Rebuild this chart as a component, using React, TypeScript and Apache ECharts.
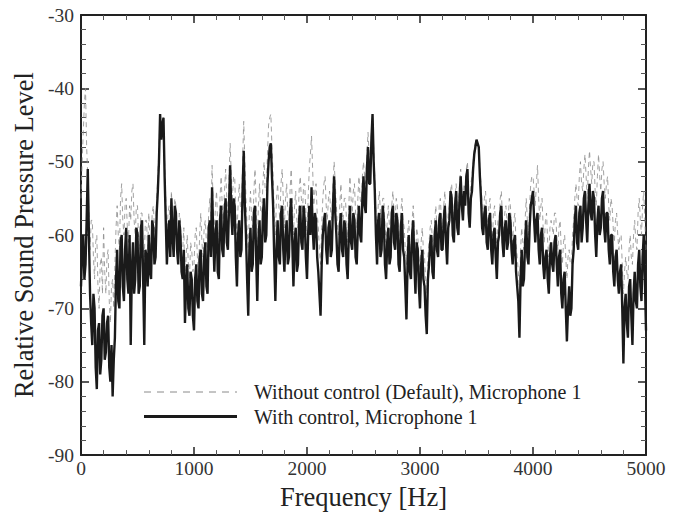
import React, { useEffect, useRef } from "react";
import * as echarts from "echarts";

// Frequency grid (Hz), 10 Hz step from 0 to 5000
const freqStep = 10;
const freqCount = 501;

// Relative SPL, with control (solid black)
const withControl: number[] = [
  -67, -62, -60, -66, -64, -58, -51, -60, -68, -72,
  -75, -68, -70, -78, -81, -73, -72, -79, -77, -71,
  -70, -77, -76, -72, -71, -78, -80, -75, -82, -77,
  -74, -66, -62, -69, -70, -61, -60, -67, -69, -62,
  -59, -66, -68, -60, -75, -65, -61, -68, -66, -59,
  -60, -68, -67, -59, -58, -66, -75, -62, -63, -67,
  -60, -65, -66, -58, -59, -64, -63, -57, -54, -50,
  -43.5, -47, -45, -44, -52, -58, -64, -60, -58, -63,
  -55, -60, -63, -56, -57, -62, -64, -58, -60, -65,
  -66, -62, -72, -67, -64, -70, -71, -65, -66, -71,
  -73, -66, -64, -69, -70, -63, -62, -68, -69, -63,
  -61, -67, -68, -59, -58, -63, -53.5, -60, -65, -60,
  -58, -65, -66, -58, -56, -62, -63, -57, -55, -61,
  -62, -56, -50.5, -57, -60, -55, -56, -63, -67, -60,
  -58, -63, -62, -54, -48.5, -56, -60, -66, -71, -62,
  -59, -65, -64, -57, -56, -63, -69, -61, -58, -64,
  -63, -57, -55, -61, -60, -53, -50, -48, -47.5, -52,
  -56, -63, -69, -62, -58, -63, -64, -57, -56, -62,
  -65, -60, -58, -64, -63, -57, -55, -61, -67, -61,
  -59, -65, -64, -58, -56, -61, -62, -56, -58, -63,
  -66, -60, -56, -60, -53.5, -59, -62, -57, -58, -63,
  -65, -68, -71, -64, -60, -58, -57, -62, -64, -59,
  -58, -63, -62, -56, -52, -57, -60, -64, -65, -59,
  -57, -62, -63, -58, -59, -64, -66, -60, -56, -61,
  -62, -57, -58, -63, -64, -59, -56, -60, -61, -55,
  -52, -56, -57, -51, -48, -53, -53, -47, -43.5, -50,
  -54, -60, -64, -58, -57, -63, -62, -56, -58, -64,
  -66, -61, -59, -64, -63, -57, -56, -61, -62, -57,
  -58, -64, -65, -59, -57, -62, -63, -67, -71.5, -64,
  -60, -65, -66, -60, -58, -64, -68, -61, -62, -67,
  -70, -64, -62, -66, -67, -71, -73.5, -66, -64, -61,
  -60, -65, -66, -60, -58, -62, -63, -58, -57, -62,
  -62, -58, -56, -61, -64, -59, -58, -54, -55, -60,
  -61, -56, -54, -59, -60, -55, -52, -56, -58, -54,
  -56, -52, -51, -57, -59, -55, -54, -51, -49, -48,
  -47, -47.5, -48, -52, -55, -59, -60, -57, -56, -61,
  -62, -58, -57, -62, -64, -60, -59, -63, -66, -61,
  -60, -57, -56, -61, -63, -59, -58, -62, -61, -57,
  -58, -62, -64, -61, -60, -65, -67, -69, -74, -66,
  -62, -67, -66, -61, -58, -63, -64, -59, -56, -55,
  -54, -58, -61, -58, -57, -62, -64, -60, -59, -64,
  -66, -63, -62, -66, -68, -63, -61, -64, -65, -61,
  -60, -64, -67, -63, -62, -68, -70, -66, -65, -70,
  -74.5, -70, -67, -71, -70, -64, -62, -58, -56, -61,
  -62, -57, -56, -61, -59, -55, -54, -58, -61, -56,
  -53, -57, -58, -54, -55, -60, -63, -58, -56, -60,
  -59, -55, -54, -59, -61, -57, -57, -62, -64, -60,
  -60, -65, -67, -63, -62, -66, -68, -65, -64, -70,
  -77.5, -70, -68, -72, -74, -67, -66, -71, -75, -68,
  -65, -69, -70, -64, -62, -67, -69, -63, -60, -66,
  -73,
];

// Relative SPL, without control (dashed grey)
const withoutControl: number[] = [
  -55, -50, -46, -42, -40, -48, -52, -57, -62, -58,
  -58, -63, -66, -61, -60, -67, -70, -64, -63, -68,
  -59, -65, -68, -63, -62, -69, -72, -67, -66, -70,
  -64, -59, -56, -60, -62, -55, -53, -58, -60, -56,
  -55, -59, -61, -56, -58, -54, -53, -58, -60, -56,
  -56, -61, -62, -57, -57, -62, -63, -58, -58, -62,
  -57, -61, -62, -57, -56, -59, -60, -55, -52, -48,
  -44, -46, -45, -44, -50, -55, -60, -57, -56, -60,
  -54, -58, -60, -55, -56, -60, -62, -57, -58, -62,
  -62, -59, -68, -63, -60, -64, -66, -61, -62, -65,
  -64, -60, -59, -63, -65, -60, -57, -61, -63, -59,
  -58, -61, -62, -57, -55, -58, -50.5, -56, -60, -56,
  -54, -59, -61, -55, -52, -56, -58, -54, -51, -55,
  -57, -52, -47.5, -52, -55, -52, -52, -57, -60, -56,
  -53, -56, -57, -50, -44.5, -50, -55, -59, -62, -57,
  -54, -58, -59, -54, -51, -56, -61, -56, -53, -57,
  -57, -53, -50, -54, -54, -49, -45, -44, -43.5, -48,
  -52, -57, -60, -55, -53, -56, -58, -53, -51, -55,
  -59, -55, -53, -57, -58, -54, -51, -56, -60, -56,
  -54, -58, -59, -54, -52, -55, -57, -53, -53, -57,
  -60, -55, -51, -49, -46.5, -51, -56, -54, -53, -57,
  -59, -62, -64, -59, -55, -53, -52, -56, -58, -55,
  -54, -57, -58, -53, -50, -53, -56, -59, -60, -56,
  -53, -57, -58, -55, -55, -58, -61, -56, -52, -55,
  -57, -54, -53, -57, -59, -55, -52, -55, -56, -52,
  -50, -52, -53, -49, -46, -49, -50, -46, -43.5, -48,
  -52, -57, -60, -56, -54, -57, -59, -55, -55, -59,
  -61, -58, -56, -59, -60, -56, -54, -57, -58, -55,
  -56, -60, -61, -57, -55, -58, -59, -62, -64, -60,
  -58, -61, -63, -58, -56, -60, -64, -59, -60, -63,
  -65, -61, -59, -62, -63, -66, -68, -63, -61, -59,
  -58, -61, -63, -58, -56, -59, -60, -56, -55, -58,
  -59, -56, -54, -58, -61, -57, -56, -54, -53, -56,
  -58, -55, -53, -56, -57, -53, -51, -54, -56, -53,
  -54, -51, -50, -54, -57, -53, -52, -50, -48, -47.5,
  -47, -47.5, -48, -51, -53, -56, -58, -55, -54, -57,
  -59, -56, -55, -59, -61, -57, -56, -59, -62, -58,
  -58, -55, -54, -58, -60, -57, -56, -58, -58, -55,
  -56, -59, -61, -58, -57, -61, -63, -65, -68, -62,
  -59, -61, -62, -58, -55, -58, -60, -56, -53, -52,
  -52, -54, -56, -53, -50.5, -55, -58, -56, -55, -59,
  -61, -58, -57, -61, -63, -59, -58, -59, -60, -57,
  -57, -60, -62, -59, -58, -62, -64, -61, -60, -63,
  -66, -63, -62, -64, -64, -60, -58, -55, -53, -55,
  -56, -52, -50, -53, -54, -51, -49, -52, -55, -51,
  -48.5, -51, -53, -50, -50, -54, -56, -52, -49, -52,
  -54, -51, -50, -53, -55, -53, -52, -56, -58, -55,
  -56, -59, -61, -58, -57, -60, -62, -60, -60, -64,
  -68, -65, -63, -65, -66, -62, -60, -63, -64, -60,
  -58, -61, -62, -57, -55, -58, -60, -56, -54, -58,
  -62,
];

const xTicks = ["0", "1000", "2000", "3000", "4000", "5000"];
const seriesNames = [
  "Without control (Default), Microphone 1",
  "With control, Microphone 1",
];

const FONT = "Liberation Serif, Times New Roman, serif";

export default function App() {
  const ref = useRef<HTMLDivElement>(null);
  useEffect(() => {
    if (!ref.current) return;
    document.body.style.margin = "0";
    const chart = echarts.init(ref.current, undefined, { renderer: "svg" });
    const freqs = Array.from({ length: freqCount }, (_, i) => i * freqStep);
    const d1 = freqs.map((f, i) => [f, withoutControl[i]]);
    const d2 = freqs.map((f, i) => [f, withControl[i]]);
    const axisColor = "#222";
    const baseAxis = {
      type: "value" as const,
      axisLine: { show: true, onZero: false, lineStyle: { color: axisColor, width: 2 } },
      axisTick: { show: true, inside: true, length: 8, lineStyle: { color: axisColor, width: 1.5 } },
      minorTick: { show: true, splitNumber: 5, length: 5, lineStyle: { color: "#555", width: 1 } },
      splitLine: { show: false },
    };
    const legendX1 = 144;
    const legendX2 = 237;
    const textX = 254;
    const legendY1 = 392;
    const legendY2 = 416.5;
    chart.setOption({
      animation: false,
      backgroundColor: "#fff",
      grid: { left: 81, right: 37, top: 15, bottom: 48, containLabel: false },
      graphic: [
        {
          type: "line",
          shape: { x1: legendX1, y1: legendY1, x2: legendX2, y2: legendY1 },
          style: { stroke: "#8a8a8a", lineWidth: 1, lineDash: [7, 6] },
          z: 10,
        },
        {
          type: "text",
          x: textX,
          y: legendY1,
          style: {
            text: seriesNames[0],
            font: `20px ${FONT}`,
            fill: "#222",
            textVerticalAlign: "middle",
            verticalAlign: "middle",
          },
          z: 10,
        },
        {
          type: "line",
          shape: { x1: legendX1, y1: legendY2, x2: legendX2, y2: legendY2 },
          style: { stroke: "#1a1a1a", lineWidth: 3 },
          z: 10,
        },
        {
          type: "text",
          x: textX,
          y: legendY2,
          style: {
            text: seriesNames[1],
            font: `20px ${FONT}`,
            fill: "#222",
            textVerticalAlign: "middle",
            verticalAlign: "middle",
          },
          z: 10,
        },
      ],
      xAxis: [
        {
          ...baseAxis,
          min: 0,
          max: 5000,
          interval: 1000,
          name: "Frequency [Hz]",
          nameLocation: "middle",
          nameGap: 21,
          nameTextStyle: { fontFamily: FONT, fontSize: 26.5, color: "#222" },
          axisLabel: {
            fontFamily: FONT,
            fontSize: 19.5,
            color: "#333",
            margin: 3,
            formatter: (v: number) => xTicks[Math.round(v / 1000)] ?? String(v),
          },
        },
        {
          ...baseAxis,
          position: "top",
          min: 0,
          max: 5000,
          interval: 1000,
          axisLabel: { show: false },
        },
      ],
      yAxis: [
        {
          ...baseAxis,
          min: -90,
          max: -30,
          interval: 10,
          name: "Relative Sound Pressure Level",
          nameLocation: "middle",
          nameGap: 42.5,
          nameTextStyle: { fontFamily: FONT, fontSize: 26.5, color: "#222" },
          axisLabel: { fontFamily: FONT, fontSize: 19.5, color: "#333", margin: 7 },
        },
        {
          ...baseAxis,
          position: "right",
          min: -90,
          max: -30,
          interval: 10,
          axisLabel: { show: false },
        },
      ],
      series: [
        {
          name: seriesNames[0],
          type: "line",
          data: d1,
          showSymbol: false,
          symbol: "none",
          lineStyle: { color: "#8a8a8a", width: 0.8, type: [5, 4] },
          z: 2,
        },
        {
          name: seriesNames[1],
          type: "line",
          data: d2,
          showSymbol: false,
          symbol: "none",
          lineStyle: { color: "#1a1a1a", width: 2.4 },
          z: 3,
        },
      ],
    });
    return () => chart.dispose();
  }, []);
  return <div ref={ref} style={{ width: 683, height: 515 }} />;
}
